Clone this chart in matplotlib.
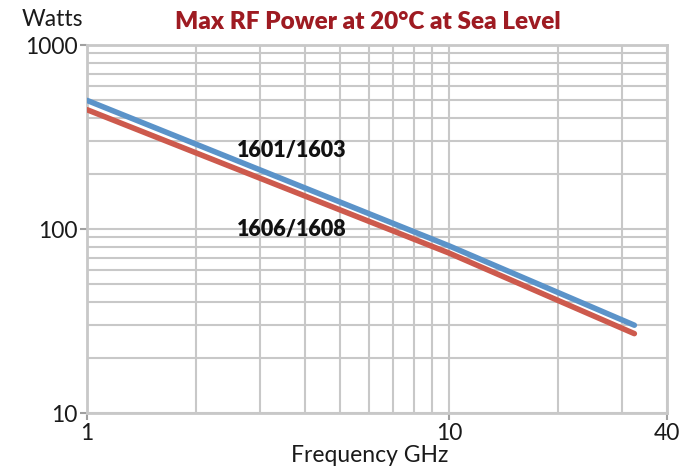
import matplotlib
matplotlib.use("Agg")
import matplotlib.pyplot as plt
from matplotlib.ticker import FixedLocator, NullFormatter

# Data
freq_ghz = [1, 10, 32.5]
power_1601 = [500, 81, 30]
power_1606 = [445, 74, 27]
series_labels = ["1601/1603", "1606/1608"]
x_ticks = [1, 10, 40]
x_tick_labels = ["1", "10", "40"]
y_ticks = [10, 100, 1000]
y_tick_labels = ["10", "100", "1000"]
x_minor = [2, 3, 4, 5, 6, 7, 8, 9, 20, 30]
y_minor = [20, 30, 40, 50, 60, 70, 80, 90, 200, 300, 400, 500, 600, 700, 800, 900]

plt.rcParams['font.family'] = ['Lato', 'DejaVu Sans']

grid_c = "#c8c8c8"
blue = "#5b93c9"
red = "#cd5a4d"
title_c = "#9e1b22"

fig = plt.figure(figsize=(6.91, 4.70), dpi=100)
ax = fig.add_axes([87/691, 1-413/470, (667-87)/691, (413-45)/470])
ax.set_xscale("log")
ax.set_yscale("log")
ax.set_xlim(1, 40)
ax.set_ylim(10, 1000)

ax.xaxis.set_major_locator(FixedLocator(x_ticks))
ax.set_xticklabels(x_tick_labels)
ax.xaxis.set_minor_locator(FixedLocator(x_minor))
ax.xaxis.set_minor_formatter(NullFormatter())
ax.yaxis.set_major_locator(FixedLocator(y_ticks))
ax.set_yticklabels(y_tick_labels)
ax.yaxis.set_minor_locator(FixedLocator(y_minor))
ax.yaxis.set_minor_formatter(NullFormatter())

ax.grid(True, which="both", color=grid_c, linewidth=1.5)
ax.set_axisbelow(True)
for s in ax.spines.values():
    s.set_color(grid_c)
    s.set_linewidth(2)

ax.tick_params(axis="both", which="major", length=5, width=1.5, color="#a0a0a0",
               labelsize=16.5, labelcolor="#1a1a1a", pad=2)
ax.tick_params(axis="both", which="minor", length=0)

ax.plot(freq_ghz, power_1601, color=blue, linewidth=4, solid_capstyle="round", zorder=3)
ax.plot(freq_ghz, power_1606, color=red, linewidth=4, solid_capstyle="round", zorder=3)

ax.text(2.59, 268, series_labels[0], fontsize=15.5, fontweight="heavy", color="#111111",
        ha="left", va="center")
ax.text(2.59, 99, series_labels[1], fontsize=15.5, fontweight="heavy", color="#111111",
        ha="left", va="center")

fig.text(368/691, 1-22/470, "Max RF Power at 20°C at Sea Level", fontsize=17.5,
         fontweight="heavy", color=title_c, ha="center", va="center")
fig.text(22/691, 1-19/470, "Watts", fontsize=16.5, color="#1a1a1a", ha="left", va="center")
fig.text(370/691, 1-455/470, "Frequency GHz", fontsize=16.5, color="#1a1a1a",
         ha="center", va="center")

fig.savefig("out.png", dpi=100)
